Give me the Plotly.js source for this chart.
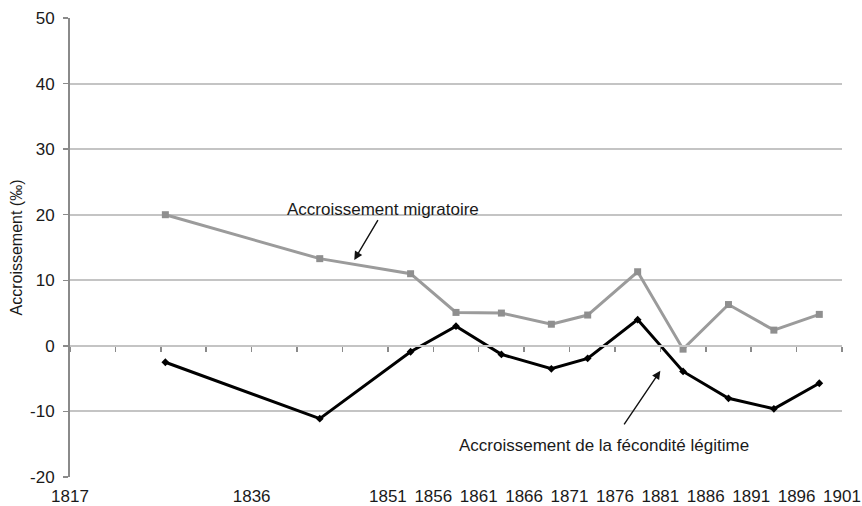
<!DOCTYPE html>
<html>
<head>
<meta charset="utf-8">
<script src="https://cdn.plot.ly/plotly-3.0.1.min.js"></script>
<style>html,body{margin:0;padding:0;background:#fff}#chart{width:862px;height:506px}</style>
</head>
<body>
<div id="chart"></div>
<script>
// Data
const years = [1826.5, 1843.5, 1853.5, 1858.5, 1863.5, 1869, 1873, 1878.5, 1883.5, 1888.5, 1893.5, 1898.5];
const migratoire = [20.0, 13.3, 11.0, 5.1, 5.0, 3.3, 4.7, 11.3, -0.5, 6.3, 2.4, 4.8];
const fecondite = [-2.5, -11.1, -0.9, 3.0, -1.3, -3.5, -1.9, 4.0, -3.9, -8.0, -9.6, -5.7];
const tickVals = [1816, 1821, 1826, 1831, 1836, 1841, 1846, 1851, 1856, 1861, 1866, 1871, 1876, 1881, 1886, 1891, 1896, 1901];
const tickText = ["1817", "", "", "", "1836", "", "", "1851", "1856", "1861", "1866", "1871", "1876", "1881", "1886", "1891", "1896", "1901"];
const yTicks = [-20, -10, 0, 10, 20, 30, 40, 50];
const yTickText = ["-20", "-10", "0", "10", "20", "30", "40", "50"];
const labelMigr = "Accroissement migratoire";
const labelFec = "Accroissement de la fécondité légitime";
const yTitle = "Accroissement (‰)";

const FONT = "Liberation Sans, Arial, sans-serif";
const GRID = "#c4c4c4";
const TXT = "#1a1a1a";

const traces = [
  {
    x: years, y: migratoire, type: "scatter", mode: "lines+markers",
    line: {color: "#9b9b9b", width: 3},
    marker: {symbol: "square", size: 7, color: "#8f8f8f"},
    hoverinfo: "skip", showlegend: false
  },
  {
    x: years, y: fecondite, type: "scatter", mode: "lines+markers",
    line: {color: "#000000", width: 3},
    marker: {symbol: "diamond", size: 6, color: "#000000"},
    hoverinfo: "skip", showlegend: false
  },
  {
    // carrier for the tick marks drawn on the zero line
    x: [tickVals[0]], y: [0], xaxis: "x2", yaxis: "y", type: "scatter", mode: "markers",
    marker: {size: 1, opacity: 0}, hoverinfo: "skip", showlegend: false
  }
];

const layout = {
  width: 862, height: 506,
  margin: {l: 70, r: 20, t: 18, b: 29, pad: 0},
  paper_bgcolor: "#ffffff", plot_bgcolor: "#ffffff",
  font: {family: FONT, size: 17, color: TXT},
  showlegend: false,
  xaxis: {
    range: [1816, 1901], type: "linear",
    tickmode: "array", tickvals: tickVals, ticktext: tickText,
    ticks: "", showgrid: false, zeroline: false, showline: false,
    tickfont: {family: FONT, size: 17, color: TXT},
    ticklabelstandoff: 7,
    fixedrange: true
  },
  xaxis2: {
    range: [1816, 1901], type: "linear", overlaying: "x",
    anchor: "free", position: 20/70, side: "bottom",
    tickmode: "array", tickvals: tickVals,
    ticks: "outside", ticklen: 5, tickwidth: 1.5, tickcolor: "#8a8a8a",
    showticklabels: false, showgrid: false, zeroline: false,
    showline: true, linecolor: GRID, linewidth: 2, fixedrange: true
  },
  yaxis: {
    range: [-20, 50], tickmode: "array", tickvals: yTicks, ticktext: yTickText,
    ticks: "outside", ticklen: 5, tickwidth: 1.5, tickcolor: "#8a8a8a",
    showgrid: true, gridcolor: GRID, gridwidth: 2,
    zeroline: false, showline: true, linecolor: "#8a8a8a", linewidth: 2,
    tickfont: {family: FONT, size: 17, color: TXT},
    ticklabelstandoff: 5,
    title: {text: yTitle, font: {family: FONT, size: 16, color: TXT}, standoff: 3},
    fixedrange: true
  },
  yaxis2: {
    range: [-20, 50], overlaying: "y", side: "right", anchor: "x",
    showticklabels: false, ticks: "", showgrid: false, zeroline: false,
    showline: true, linecolor: GRID, linewidth: 2, fixedrange: true
  },
  annotations: [
    {x: 1847.3, y: 13.1, ax: 1850.0, ay: 19.4, axref: "x", ayref: "y", xref: "x", yref: "y",
     text: "", showarrow: true, arrowhead: 2, arrowsize: 1.2, arrowwidth: 1.4, arrowcolor: "#111", standoff: 0, startstandoff: 0},
    {x: 1881.0, y: -3.8, ax: 1876.9, ay: -12.2, axref: "x", ayref: "y", xref: "x", yref: "y",
     text: "", showarrow: true, arrowhead: 2, arrowsize: 1.2, arrowwidth: 1.4, arrowcolor: "#111", standoff: 0, startstandoff: 0},
    {x: 1850.5, y: 20.8, xref: "x", yref: "y", text: labelMigr, showarrow: false,
     font: {family: FONT, size: 17, color: TXT}},
    {x: 1874.8, y: -15.25, xref: "x", yref: "y", text: labelFec, showarrow: false,
     font: {family: FONT, size: 17, color: TXT}}
  ]
};

Plotly.newPlot("chart", traces, layout, {staticPlot: true, displayModeBar: false});
</script>
</body>
</html>
